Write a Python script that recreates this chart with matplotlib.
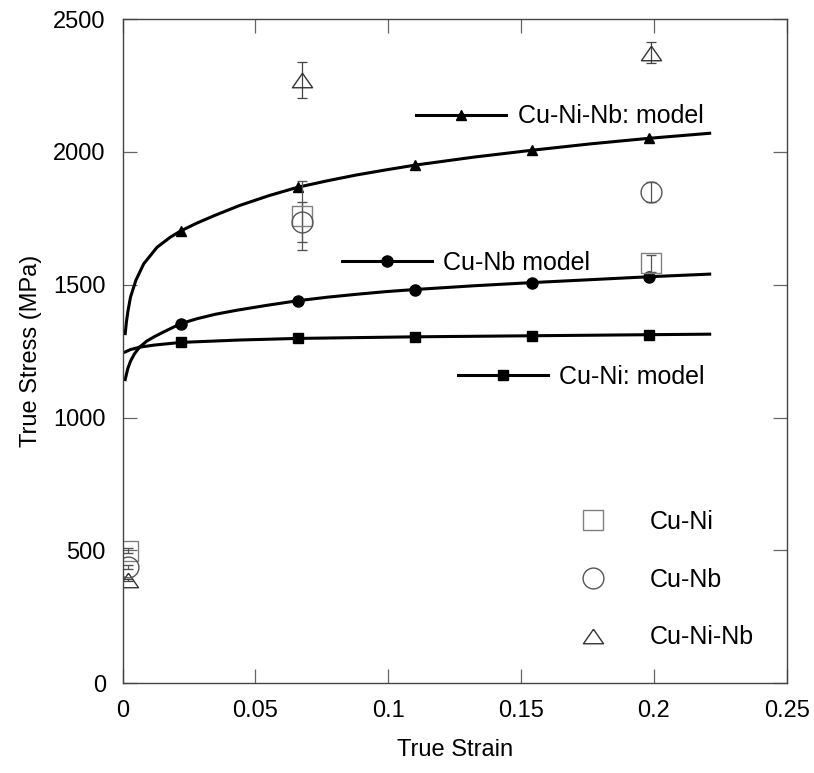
import matplotlib
matplotlib.use("Agg")
import matplotlib.pyplot as plt
from matplotlib.lines import Line2D

plt.rcParams['font.family'] = ['Liberation Sans', 'DejaVu Sans']

# model curves
cuninb_strain = [0.001, 0.0015, 0.002, 0.003, 0.005, 0.008, 0.013, 0.018, 0.022, 0.028,
                 0.035, 0.044, 0.055, 0.066, 0.077, 0.088, 0.099, 0.110, 0.132, 0.154,
                 0.176, 0.198, 0.221]
cuninb_stress = [1316, 1362, 1398, 1453, 1516, 1579, 1641, 1679, 1703, 1732,
                 1762, 1798, 1835, 1867, 1891, 1913, 1932, 1950, 1980, 2006,
                 2030, 2051, 2070]

cunb_strain = [0.001, 0.002, 0.003, 0.0045, 0.0064, 0.009, 0.0117, 0.015, 0.0185, 0.022,
               0.028, 0.035, 0.043, 0.054, 0.066, 0.077, 0.088, 0.099, 0.110, 0.132,
               0.154, 0.176, 0.198, 0.221]
cunb_stress = [1143, 1185, 1212, 1240, 1265, 1287, 1303, 1320, 1337, 1354,
               1372, 1389, 1404, 1422, 1440, 1453, 1464, 1474, 1482, 1496,
               1508, 1519, 1530, 1540]

cuni_strain = [0.001, 0.003, 0.0064, 0.012, 0.022, 0.044, 0.066, 0.110, 0.154, 0.198, 0.221]
cuni_stress = [1247, 1256, 1265, 1273, 1283, 1292, 1298, 1304, 1308, 1312, 1314]

# model markers
mark_strain = [0.022, 0.066, 0.110, 0.154, 0.198]
cuninb_mark = [1703, 1867, 1950, 2006, 2051]
cunb_mark = [1354, 1440, 1482, 1508, 1530]
cuni_mark = [1283, 1298, 1304, 1308, 1312]

# experiments
exp_strain = [0.002, 0.0677, 0.199]
cuni_exp = [499, 1760, 1580]
cuni_err = [10, 130, 32]
cunb_exp = [437, 1735, 1849]
cunb_err = [8, 75, 39]
cunin_exp = [390, 2270, 2373]
cunin_err = [4, 67, 40]

fig = plt.figure(figsize=(8.14, 7.73), dpi=100)
ax = fig.add_axes([0.1505, 0.116, 0.816, 0.8594])

tri = [(0, 0.72), (-1, -0.72), (1, -0.72), (0, 0.72)]

# models
ax.plot(cuninb_strain, cuninb_stress, '-', color='black', lw=2.2)
ax.plot(mark_strain, cuninb_mark, '^', color='black', ms=7, ls='none')
ax.plot(cunb_strain, cunb_stress, '-', color='black', lw=2.2)
ax.plot(mark_strain, cunb_mark, 'o', color='black', ms=8, ls='none')
ax.plot(cuni_strain, cuni_stress, '-', color='black', lw=2.2)
ax.plot(mark_strain, cuni_mark, 's', color='black', ms=7, ls='none')

# experimental points
ax.errorbar(exp_strain, cuni_exp, yerr=cuni_err, fmt='s', ms=14.5, mfc='none',
            mec='#808080', mew=1.0, ecolor='#555555', elinewidth=0.9, capsize=3.8, capthick=0.9)
ax.errorbar(exp_strain, cunb_exp, yerr=cunb_err, fmt='o', ms=15, mfc='none',
            mec='#555555', mew=1.0, ecolor='#555555', elinewidth=0.9, capsize=3.8, capthick=0.9)
ax.errorbar(exp_strain, cunin_exp, yerr=cunin_err, fmt='none', ecolor='#444444',
            elinewidth=0.9, capsize=3.8, capthick=0.9)
ax.plot(exp_strain, cunin_exp, marker=tri, ms=14.5, mfc='none', mec='#333333',
        mew=1.0, ls='none')

# model labels
def model_label(marker, ms, text, x, y):
    h = Line2D([], [], color='black', lw=2.2, marker=marker, ms=ms)
    leg = ax.legend([h], [text], loc='center left', bbox_to_anchor=(x, y),
                    bbox_transform=ax.transData, frameon=False, fontsize=18,
                    handlelength=3.6, handletextpad=0.45, borderpad=0, borderaxespad=0)
    ax.add_artist(leg)

model_label('^', 7, 'Cu-Ni-Nb: model', 0.1106, 2134)
model_label('o', 8, 'Cu-Nb model', 0.0827, 1583)
model_label('s', 7, 'Cu-Ni: model', 0.1262, 1153)

# data legend
hs = [Line2D([], [], ls='none', marker='s', ms=14.5, mfc='none', mec='#808080', mew=1.0),
      Line2D([], [], ls='none', marker='o', ms=15, mfc='none', mec='#555555', mew=1.0),
      Line2D([], [], ls='none', marker=tri, ms=14.5, mfc='none', mec='#333333', mew=1.0)]
leg = ax.legend(hs, ['Cu-Ni', 'Cu-Nb', 'Cu-Ni-Nb'], loc='center left',
                bbox_to_anchor=(0.1725, 390), bbox_transform=ax.transData,
                frameon=False, fontsize=18, handlelength=1.0, handletextpad=1.75,
                labelspacing=1.35, borderpad=0, borderaxespad=0)

ax.set_xlim(0, 0.25)
ax.set_ylim(0, 2500)
ax.set_xticks([0, 0.05, 0.1, 0.15, 0.2, 0.25])
ax.set_xticklabels(['0', '0.05', '0.1', '0.15', '0.2', '0.25'])
ax.set_yticks([0, 500, 1000, 1500, 2000, 2500])
ax.tick_params(direction='in', length=10, width=0.9, color='#666666',
               top=True, right=True, labelsize=17, pad=12)
for s in ax.spines.values():
    s.set_color('#444444')
    s.set_linewidth(1.0)

ax.set_xlabel('True Strain', fontsize=17, labelpad=12)
ax.set_ylabel('True Stress (MPa)', fontsize=17, labelpad=8)

fig.savefig('out.png', dpi=100)
